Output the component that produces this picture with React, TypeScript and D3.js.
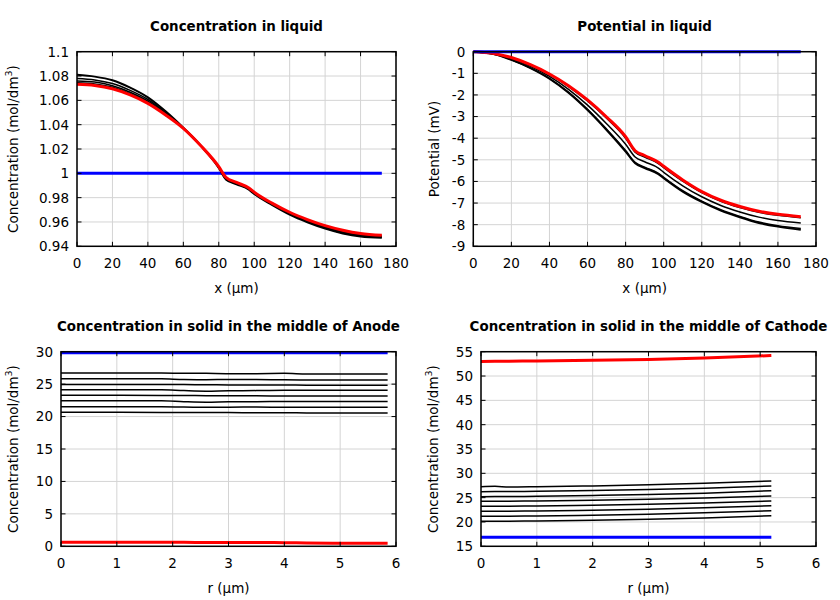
import React from "react";
import * as d3 from "d3";

// ---------- Panel 1: Concentration in liquid ----------
const liqX = [0, 10, 20, 30, 40, 50, 60, 70, 80, 84, 90, 97, 100, 110, 120, 130, 140, 150, 160, 172];
const concLiqBlack1 = [1.081, 1.0795, 1.0765, 1.0705, 1.0625, 1.051, 1.0375, 1.0225, 1.0045, 0.995, 0.991, 0.9865, 0.983, 0.974, 0.966, 0.9597, 0.9545, 0.9505, 0.948, 0.947];
const concLiqBlack2 = [1.078, 1.0768, 1.0738, 1.0682, 1.0607, 1.0498, 1.0372, 1.0225, 1.0048, 0.9955, 0.9915, 0.987, 0.9835, 0.9745, 0.9665, 0.9603, 0.955, 0.951, 0.9487, 0.9476];
const concLiqBlack3 = [1.076, 1.075, 1.072, 1.0667, 1.0594, 1.049, 1.0371, 1.0225, 1.005, 0.996, 0.992, 0.9873, 0.984, 0.975, 0.967, 0.9608, 0.9557, 0.9518, 0.9493, 0.948];
const concLiqBlack4 = [1.0745, 1.0735, 1.0707, 1.0655, 1.0584, 1.0485, 1.037, 1.0225, 1.0052, 0.9964, 0.9922, 0.9876, 0.9842, 0.9752, 0.9675, 0.9614, 0.9563, 0.9525, 0.95, 0.9485];
const concLiqRed = [1.0732, 1.0722, 1.0695, 1.0645, 1.0575, 1.048, 1.037, 1.0225, 1.0055, 0.9968, 0.9925, 0.988, 0.9845, 0.9755, 0.968, 0.962, 0.957, 0.9532, 0.9505, 0.949];
const concLiqBlue = [1, 1, 1, 1, 1, 1, 1, 1, 1, 1, 1, 1, 1, 1, 1, 1, 1, 1, 1, 1];
const concLiqYTicks = [0.94, 0.96, 0.98, 1, 1.02, 1.04, 1.06, 1.08, 1.1];
const liqXTicks = [0, 20, 40, 60, 80, 100, 120, 140, 160, 180];

// ---------- Panel 2: Potential in liquid ----------
const potX = [0, 10, 20, 30, 40, 50, 60, 70, 80, 85, 90, 97, 100, 110, 120, 130, 140, 150, 160, 172];
const potBlack1 = [0, -0.1, -0.38, -0.76, -1.25, -1.9, -2.7, -3.62, -4.62, -5.16, -5.38, -5.65, -5.85, -6.47, -6.95, -7.35, -7.66, -7.92, -8.09, -8.23];
const potBlack2 = [0, -0.1, -0.37, -0.75, -1.23, -1.87, -2.66, -3.58, -4.57, -5.12, -5.34, -5.61, -5.81, -6.43, -6.91, -7.31, -7.62, -7.88, -8.05, -8.18];
const potBlack3 = [0, -0.08, -0.32, -0.68, -1.14, -1.74, -2.47, -3.33, -4.28, -4.87, -5.09, -5.37, -5.58, -6.2, -6.71, -7.11, -7.41, -7.65, -7.81, -7.92];
const potBlack4 = [0, -0.07, -0.28, -0.62, -1.06, -1.61, -2.28, -3.08, -4.0, -4.65, -4.87, -5.16, -5.36, -5.99, -6.52, -6.92, -7.21, -7.43, -7.57, -7.68];
const potRed = [0, -0.07, -0.27, -0.6, -1.03, -1.57, -2.23, -3.02, -3.93, -4.58, -4.8, -5.1, -5.3, -5.93, -6.47, -6.87, -7.16, -7.38, -7.52, -7.63];
const potBlue = [0, 0, 0, 0, 0, 0, 0, 0, 0, 0, 0, 0, 0, 0, 0, 0, 0, 0, 0, 0];
const potYTicks = [0, -1, -2, -3, -4, -5, -6, -7, -8, -9];

// ---------- Panel 3: Concentration in solid, Anode ----------
const anodeR = [0, 1, 1.8, 2.2, 2.6, 3, 3.5, 4, 4.4, 5, 5.85];
const anodeBlack1 = [26.7, 26.7, 26.7, 26.68, 26.66, 26.62, 26.62, 26.66, 26.58, 26.56, 26.55];
const anodeBlack2 = [25.83, 25.83, 25.82, 25.7, 25.68, 25.72, 25.7, 25.68, 25.64, 25.62, 25.62];
const anodeBlack3 = [24.96, 24.96, 24.95, 24.93, 24.9, 24.88, 24.87, 24.86, 24.84, 24.82, 24.81];
const anodeBlack4 = [24.13, 24.13, 24.12, 24.0, 23.92, 23.98, 24.0, 24.05, 24.06, 24.05, 24.04];
const anodeBlack5 = [23.27, 23.27, 23.26, 23.24, 23.22, 23.2, 23.19, 23.18, 23.17, 23.16, 23.16];
const anodeBlack6 = [22.44, 22.44, 22.43, 22.3, 22.22, 22.28, 22.3, 22.33, 22.34, 22.34, 22.34];
const anodeBlack7 = [21.51, 21.51, 21.5, 21.48, 21.42, 21.45, 21.46, 21.44, 21.43, 21.42, 21.42];
const anodeBlack8 = [20.65, 20.65, 20.64, 20.63, 20.62, 20.61, 20.6, 20.6, 20.55, 20.54, 20.54];
const anodeRed = [0.62, 0.62, 0.62, 0.61, 0.6, 0.6, 0.6, 0.55, 0.52, 0.48, 0.46];
const anodeBlue = [29.83, 29.83, 29.83, 29.83, 29.83, 29.83, 29.83, 29.83, 29.83, 29.83, 29.83];
const anodeYTicks = [0, 5, 10, 15, 20, 25, 30];
const solidXTicks = [0, 1, 2, 3, 4, 5, 6];

// ---------- Panel 4: Concentration in solid, Cathode ----------
const cathR = [0, 0.25, 0.5, 1, 2, 3, 4, 5.2];
const cathBlack1 = [27.25, 27.35, 27.18, 27.24, 27.42, 27.66, 27.95, 28.42];
const cathBlack2 = [26.22, 26.24, 26.26, 26.3, 26.46, 26.66, 26.93, 27.39];
const cathBlack3 = [25.2, 25.22, 25.24, 25.28, 25.45, 25.65, 25.93, 26.43];
const cathBlack4 = [24.25, 24.26, 24.28, 24.32, 24.48, 24.68, 24.95, 25.34];
const cathBlack5 = [23.22, 23.23, 23.25, 23.29, 23.45, 23.65, 23.92, 24.31];
const cathBlack6 = [22.19, 22.2, 22.22, 22.27, 22.43, 22.64, 22.92, 23.35];
const cathBlack7 = [21.17, 21.18, 21.2, 21.25, 21.4, 21.6, 21.88, 22.32];
const cathBlack8 = [20.14, 20.15, 20.17, 20.21, 20.37, 20.57, 20.84, 21.29];
const cathRed = [53.0, 53.02, 53.05, 53.1, 53.22, 53.42, 53.72, 54.2];
const cathBlue = [16.85, 16.85, 16.85, 16.85, 16.85, 16.85, 16.85, 16.85];
const cathYTicks = [15, 20, 25, 30, 35, 40, 45, 50, 55];

type Series = { xs: number[]; ys: number[]; color: string; width: number };

type PanelProps = {
  title: string;
  left: number;
  right: number;
  top: number;
  bottom: number;
  xDomain: [number, number];
  yDomain: [number, number];
  xTicks: number[];
  yTicks: number[];
  xLabel: string;
  yLabel: string;
  yLabelSup?: string;
  yLabelX: number;
  series: Series[];
};

const FONT = "DejaVu Sans, sans-serif";
const FS = 13.5;

function fmt(v: number) {
  return String(Math.round(v * 1000) / 1000);
}

function Panel(p: PanelProps) {
  const x = d3.scaleLinear().domain(p.xDomain).range([p.left, p.right]);
  const y = d3.scaleLinear().domain(p.yDomain).range([p.bottom, p.top]);
  const tl = 4.5;
  const cx = (p.left + p.right) / 2;
  const cy = (p.top + p.bottom) / 2;
  return (
    <g>
      <text x={cx} y={p.top - 21} textAnchor="middle" fontFamily={FONT} fontWeight="bold" fontSize={13.4} fill="#000">
        {p.title}
      </text>
      {p.xTicks.map((t) => (
        <line key={"gx" + t} x1={x(t)} x2={x(t)} y1={p.top} y2={p.bottom} stroke="#d4d4d4" strokeWidth={1} />
      ))}
      {p.yTicks.map((t) => (
        <line key={"gy" + t} x1={p.left} x2={p.right} y1={y(t)} y2={y(t)} stroke="#d4d4d4" strokeWidth={1} />
      ))}
      {p.series.map((s, i) => {
        const line = d3
          .line<number>()
          .x((_, k) => x(s.xs[k]))
          .y((v) => y(v))
          .curve(d3.curveMonotoneX);
        return (
          <path key={"s" + i} d={line(s.ys) || ""} fill="none" stroke={s.color} strokeWidth={s.width} strokeLinejoin="round" />
        );
      })}
      {p.xTicks.map((t) => (
        <g key={"tx" + t}>
          <line x1={x(t)} x2={x(t)} y1={p.bottom} y2={p.bottom - tl} stroke="#000" strokeWidth={1} />
          <line x1={x(t)} x2={x(t)} y1={p.top} y2={p.top + tl} stroke="#000" strokeWidth={1} />
          <text x={x(t)} y={p.bottom + 21.5} textAnchor="middle" fontFamily={FONT} fontSize={FS} fill="#000">
            {fmt(t)}
          </text>
        </g>
      ))}
      {p.yTicks.map((t) => (
        <g key={"ty" + t}>
          <line x1={p.left} x2={p.left + tl} y1={y(t)} y2={y(t)} stroke="#000" strokeWidth={1} />
          <line x1={p.right} x2={p.right - tl} y1={y(t)} y2={y(t)} stroke="#000" strokeWidth={1} />
          <text x={p.left - 8} y={y(t)} dy="0.36em" textAnchor="end" fontFamily={FONT} fontSize={FS} fill="#000">
            {fmt(t)}
          </text>
        </g>
      ))}
      <rect x={p.left} y={p.top} width={p.right - p.left} height={p.bottom - p.top} fill="none" stroke="#000" strokeWidth={1.5} />
      <text x={cx} y={p.bottom + 47} textAnchor="middle" fontFamily={FONT} fontSize={FS} fill="#000">
        {p.xLabel}
      </text>
      <text
        transform={`translate(${p.yLabelX},${cy}) rotate(-90)`}
        textAnchor="middle"
        dy="0.36em"
        fontFamily={FONT}
        fontSize={FS}
        fill="#000"
      >
        {p.yLabel}
        {p.yLabelSup ? (
          <>
            <tspan fontSize={9.5} dy="-5.5">{p.yLabelSup}</tspan>
            <tspan dy="5.5">)</tspan>
          </>
        ) : null}
      </text>
    </g>
  );
}

const RED = "#ff0000";
const BLUE = "#0000ff";
const BLACK = "#000000";

export default function App() {
  const p1: Series[] = [
    { xs: liqX, ys: concLiqBlue, color: BLUE, width: 3 },
    { xs: liqX, ys: concLiqBlack1, color: BLACK, width: 2 },
    { xs: liqX, ys: concLiqBlack2, color: BLACK, width: 1.5 },
    { xs: liqX, ys: concLiqBlack3, color: BLACK, width: 1.5 },
    { xs: liqX, ys: concLiqBlack4, color: BLACK, width: 1.5 },
    { xs: liqX, ys: concLiqRed, color: RED, width: 3 },
  ];
  const p2: Series[] = [
    { xs: potX, ys: potBlack1, color: BLACK, width: 2 },
    { xs: potX, ys: potBlack2, color: BLACK, width: 1.5 },
    { xs: potX, ys: potBlack3, color: BLACK, width: 1.5 },
    { xs: potX, ys: potBlack4, color: BLACK, width: 1.5 },
    { xs: potX, ys: potRed, color: RED, width: 3 },
    { xs: potX, ys: potBlue, color: BLUE, width: 3 },
  ];
  const p3: Series[] = [
    ...[anodeBlack1, anodeBlack2, anodeBlack3, anodeBlack4, anodeBlack5, anodeBlack6, anodeBlack7, anodeBlack8].map((ys) => ({
      xs: anodeR,
      ys,
      color: BLACK,
      width: 1.5,
    })),
    { xs: anodeR, ys: anodeRed, color: RED, width: 3 },
    { xs: anodeR, ys: anodeBlue, color: BLUE, width: 3 },
  ];
  const p4: Series[] = [
    ...[cathBlack1, cathBlack2, cathBlack3, cathBlack4, cathBlack5, cathBlack6, cathBlack7, cathBlack8].map((ys) => ({
      xs: cathR,
      ys,
      color: BLACK,
      width: 1.5,
    })),
    { xs: cathR, ys: cathRed, color: RED, width: 3 },
    { xs: cathR, ys: cathBlue, color: BLUE, width: 3 },
  ];
  const concLabel = "Concentration (mol/dm";
  return (
    <svg width={840} height={600} style={{ position: "absolute", left: 0, top: 0, background: "#fff" }}>
      <rect x={0} y={0} width={840} height={600} fill="#fff" />
      <Panel
        title="Concentration in liquid"
        left={77}
        right={396}
        top={51.7}
        bottom={246.3}
        xDomain={[0, 180]}
        yDomain={[0.94, 1.1]}
        xTicks={liqXTicks}
        yTicks={concLiqYTicks}
        xLabel="x (µm)"
        yLabel={concLabel}
        yLabelSup="3"
        yLabelX={13}
        series={p1}
      />
      <Panel
        title="Potential in liquid"
        left={473.3}
        right={816}
        top={51.7}
        bottom={246.3}
        xDomain={[0, 180]}
        yDomain={[-9, 0]}
        xTicks={liqXTicks}
        yTicks={potYTicks}
        xLabel="x (µm)"
        yLabel="Potential (mV)"
        yLabelX={434}
        series={p2}
      />
      <Panel
        title="Concentration in solid in the middle of Anode"
        left={61}
        right={396}
        top={351.7}
        bottom={546.3}
        xDomain={[0, 6]}
        yDomain={[0, 30]}
        xTicks={solidXTicks}
        yTicks={anodeYTicks}
        xLabel="r (µm)"
        yLabel={concLabel}
        yLabelSup="3"
        yLabelX={13}
        series={p3}
      />
      <Panel
        title="Concentration in solid in the middle of Cathode"
        left={481}
        right={816}
        top={351.7}
        bottom={546.3}
        xDomain={[0, 6]}
        yDomain={[15, 55]}
        xTicks={solidXTicks}
        yTicks={cathYTicks}
        xLabel="r (µm)"
        yLabel={concLabel}
        yLabelSup="3"
        yLabelX={433}
        series={p4}
      />
    </svg>
  );
}
